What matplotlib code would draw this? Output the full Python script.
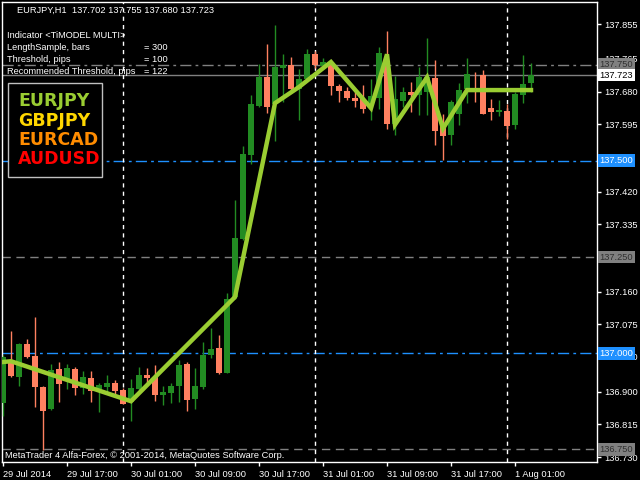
import matplotlib
matplotlib.use('Agg')
import matplotlib.pyplot as plt
from matplotlib.patches import Rectangle

# EURJPY H1 candles, 29 Jul 09:00 .. 1 Aug 03:00
opens = [136.870, 136.974, 136.939, 137.025, 136.992, 136.911, 136.854, 136.959, 136.933, 136.959,
         136.910, 136.935, 136.907, 136.912, 136.922, 136.904, 136.873, 136.907, 136.943, 136.938,
         136.891, 136.896, 136.914, 136.972, 136.881, 136.912, 136.995, 137.013, 136.948, 137.146,
         137.297, 137.516, 137.642, 137.717, 137.649, 137.741, 137.748, 137.687, 137.713, 137.778,
         137.747, 137.748, 137.694, 137.682, 137.664, 137.662, 137.642, 137.664, 137.758, 137.596,
         137.656, 137.679, 137.672, 137.679, 137.715, 137.597, 137.568, 137.623, 137.686, 137.724,
         137.722, 137.637, 137.628, 137.629, 137.593, 137.671, 137.702]
highs = [136.995, 137.058, 137.027, 137.036, 137.095, 136.914, 136.973, 136.977, 136.972, 136.964,
         136.953, 136.953, 136.922, 136.943, 136.930, 136.909, 136.933, 136.964, 136.961, 136.969,
         136.914, 136.922, 136.982, 136.977, 136.961, 137.029, 137.065, 137.047, 137.156, 137.398,
         137.538, 137.670, 137.753, 137.805, 137.852, 137.779, 137.769, 137.738, 137.790, 137.786,
         137.767, 137.760, 137.700, 137.691, 137.680, 137.697, 137.713, 137.797, 137.837, 137.720,
         137.691, 137.705, 137.745, 137.820, 137.762, 137.622, 137.658, 137.703, 137.767, 137.731,
         137.736, 137.661, 137.658, 137.648, 137.679, 137.775, 137.755]
lows = [136.837, 136.937, 136.915, 136.987, 136.861, 136.748, 136.852, 136.874, 136.907, 136.891,
        136.894, 136.874, 136.848, 136.900, 136.894, 136.868, 136.823, 136.904, 136.922, 136.875,
        136.865, 136.870, 136.873, 136.849, 136.855, 136.907, 136.987, 136.946, 136.948, 137.141,
        137.294, 137.493, 137.639, 137.625, 137.552, 137.654, 137.684, 137.606, 137.713, 137.741,
        137.746, 137.671, 137.654, 137.658, 137.641, 137.625, 137.606, 137.635, 137.582, 137.567,
        137.641, 137.628, 137.619, 137.619, 137.541, 137.502, 137.541, 137.593, 137.651, 137.654,
        137.622, 137.606, 137.616, 137.557, 137.583, 137.651, 137.680]
closes = [136.991, 136.940, 137.024, 136.991, 136.913, 136.850, 136.956, 136.920, 136.961, 136.910,
          136.938, 136.902, 136.917, 136.922, 136.901, 136.868, 136.909, 136.943, 136.935, 136.891,
          136.899, 136.914, 136.969, 136.878, 136.914, 136.995, 137.011, 136.948, 137.141, 137.299,
          137.518, 137.648, 137.717, 137.641, 137.743, 137.748, 137.687, 137.712, 137.778, 137.748,
          137.757, 137.694, 137.682, 137.664, 137.655, 137.635, 137.668, 137.781, 137.596, 137.661,
          137.679, 137.672, 137.718, 137.717, 137.578, 137.565, 137.653, 137.684, 137.726, 137.722,
          137.622, 137.628, 137.632, 137.590, 137.674, 137.700, 137.723]

# TiMODEL MULTI line (turning points)
line_bars = [0, 1, 16, 29, 34, 37, 41, 46, 48, 49, 53, 55, 58, 66]
line_vals = [136.977, 136.979, 136.875, 137.146, 137.650, 137.692, 137.757, 137.637, 137.777,
             137.594, 137.717, 137.584, 137.684, 137.684]

# horizontal levels
levels = [137.750, 137.723, 137.500, 137.250, 137.000, 136.750]
level_colors = ['#808080', '#808080', '#1E90FF', '#808080', '#1E90FF', '#808080']
level_styles = [(0, (8, 3, 2, 3)), '-', (0, (8, 3, 2, 3)), (0, (6, 4)), (0, (8, 3, 2, 3)), (0, (6, 4))]
level_bg = ['#808080', '#FFFFFF', '#1E90FF', '#808080', '#1E90FF', '#808080']
level_fg = ['#303030', '#000000', '#FFFFFF', '#303030', '#FFFFFF', '#303030']

yticks = [137.855, 137.765, 137.680, 137.595, 137.420, 137.335, 137.160, 137.075, 136.990,
          136.900, 136.815, 136.730]
xtick_bars = [0, 8, 16, 24, 32, 40, 48, 56, 64]
xtick_labels = ['29 Jul 2014', '29 Jul 17:00', '30 Jul 01:00', '30 Jul 09:00', '30 Jul 17:00',
                '31 Jul 01:00', '31 Jul 09:00', '31 Jul 17:00', '1 Aug 01:00']
day_breaks = [15, 39, 63]

pairs = ['EURJPY', 'GBPJPY', 'EURCAD', 'AUDUSD']
pair_colors = ['#9ACD32', '#FFD700', '#FF8C00', '#FF0000']

plt.rcParams['font.family'] = ['Liberation Sans', 'DejaVu Sans']
FS = 6.7

W, H = 640, 480
fig = plt.figure(figsize=(6.4, 4.8), dpi=100, facecolor='black')
ax = fig.add_axes([2 / W, 18 / H, 595 / W, 460 / H], facecolor='black')


def fxy(x, y):
    return x / W, 1 - y / H


bull = '#228B22'
bear = '#FF8060'
for i in range(len(opens)):
    o, h, l, c = opens[i], highs[i], lows[i], closes[i]
    col = bull if c >= o else bear
    ax.plot([i, i], [l, h], color=col, lw=1, zorder=3, solid_capstyle='butt')
    ax.bar(i, max(abs(c - o), 0.002), bottom=min(o, c), width=0.7, color=col,
           linewidth=0, zorder=3)

for lv, lc, ls in zip(levels, level_colors, level_styles):
    ax.axhline(lv, color=lc, lw=1, linestyle=ls, zorder=2)

for d in day_breaks:
    ax.axvline(d, color='white', lw=1, linestyle=(0, (3, 3)), zorder=2)

ax.plot(line_bars, line_vals, color='#9ACD32', lw=3.2, zorder=4, solid_joinstyle='miter')

ax.set_xlim(-0.125, 74.25)
ax.set_ylim(136.717, 137.913)

for s in ax.spines.values():
    s.set_color('white')
    s.set_linewidth(1)

ax.yaxis.tick_right()
ax.set_yticks(yticks)
ax.set_yticklabels(['%.3f' % v for v in yticks])
ax.tick_params(axis='y', colors='white', labelsize=FS, length=3, pad=2, width=1)
ax.set_xticks(xtick_bars)
ax.set_xticklabels(xtick_labels, ha='left')
ax.tick_params(axis='x', colors='white', labelsize=FS, length=3, pad=3, width=1)

# price labels on the right scale
for lv, bg, fg in zip(levels, level_bg, level_fg):
    ax.text(1.0045, lv, '%.3f' % lv, transform=ax.get_yaxis_transform(), fontsize=FS,
            color=fg, va='center', ha='left', clip_on=False, zorder=6,
            bbox=dict(boxstyle='square,pad=0.2', facecolor=bg, edgecolor='none'))

# header texts
fig.text(*fxy(17, 10), 'EURJPY,H1  137.702 137.755 137.680 137.723', color='white',
         fontsize=FS, va='center', ha='left')
info = [('Indicator <TiMODEL MULTI>', ''), ('LengthSample, bars', '= 300'),
        ('Threshold, pips', '= 100'), ('Recommended Threshold, pips', '= 122')]
for k, (a, b) in enumerate(info):
    y = 36 + k * 12
    fig.text(*fxy(7, y), a, color='white', fontsize=FS, va='center', ha='left')
    if b:
        fig.text(*fxy(144, y), b, color='white', fontsize=FS, va='center', ha='left')

fig.text(*fxy(5, 455), 'MetaTrader 4 Alfa-Forex, \u00a9 2001-2014, MetaQuotes Software Corp.',
         color='white', fontsize=FS, va='center', ha='left')

# pair legend box
x0, y0 = fxy(8, 177)
fig.patches.append(Rectangle((x0, y0), 94 / W, 94 / H, transform=fig.transFigure,
                             facecolor='black', edgecolor='#C0C0C0', lw=1, zorder=10))
for k, (p, pc) in enumerate(zip(pairs, pair_colors)):
    fig.text(*fxy(18, 101 + k * 19.5), p, color=pc, fontsize=12.5, fontweight='bold',
             family='DejaVu Sans', va='center', ha='left', zorder=11)

fig.savefig('out.png', dpi=100, facecolor='black')
